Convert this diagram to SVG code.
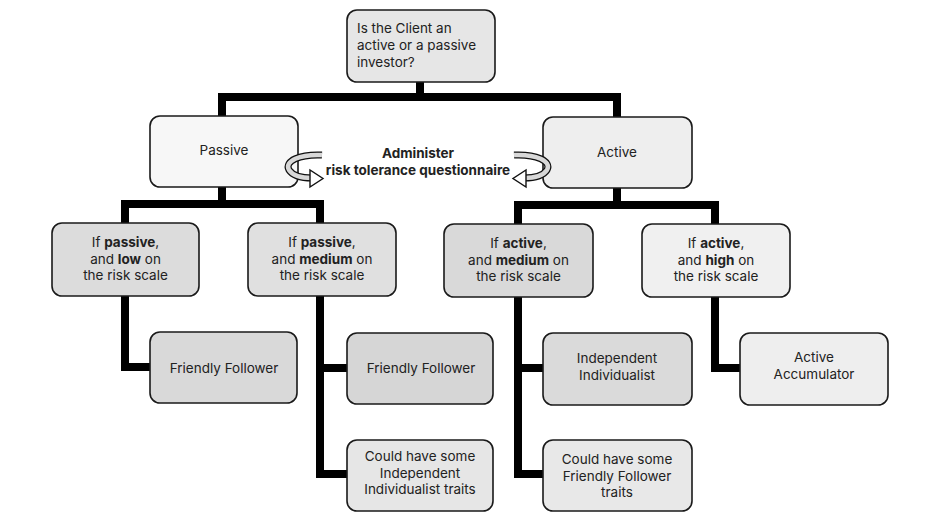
<svg xmlns="http://www.w3.org/2000/svg" width="932" height="532" viewBox="0 0 932 532">
<style>
  .box { stroke: #1a1a1a; stroke-width: 1.6; }
  .t { font-family: Inter, "Liberation Sans", sans-serif; font-size: 13.5px; fill: #222; text-anchor: middle; }
  .tl { text-anchor: start; }
  .b { font-weight: bold; }
  .conn { fill: none; stroke: #000; stroke-width: 8; stroke-linejoin: miter; }
</style>
<rect width="932" height="532" fill="#ffffff"/>
<g id="connectors">
  <path class="conn" d="M420 82 V97"/>
  <path class="conn" d="M222 117 V97 H617 V118"/>
  <path class="conn" d="M222 187 V204"/>
  <path class="conn" d="M125 223 V204 H320 V223"/>
  <path class="conn" d="M617 188 V205"/>
  <path class="conn" d="M518 224 V205 H715 V224"/>
  <path class="conn" d="M125 296 V367 H151"/>
  <path class="conn" d="M320 296 V474 H348"/>
  <path class="conn" d="M320 368 H348"/>
  <path class="conn" d="M518 297 V474 H544"/>
  <path class="conn" d="M518 368 H544"/>
  <path class="conn" d="M715 297 V368 H741"/>
</g>
<g id="q">
  <rect class="box" x="347" y="10" width="148" height="72" rx="10" fill="#e6e6e6"/>
  <text class="t tl" x="357" y="33">Is the Client an</text>
  <text class="t tl" x="357" y="50">active or a passive</text>
  <text class="t tl" x="357" y="67">investor?</text>
</g>
<g id="passive">
  <rect class="box" x="150" y="116" width="148" height="71" rx="10" fill="#f7f7f7"/>
  <text class="t" x="224" y="155">Passive</text>
</g>
<g id="active">
  <rect class="box" x="543" y="117" width="149" height="71" rx="10" fill="#eeeeee"/>
  <text class="t" x="617" y="157">Active</text>
</g>
<g id="admin">
  <path d="M322 155 C300 154 284 161 289 170 C293 176 303 178 312 178" fill="none" stroke="#111" stroke-width="7"/>
  <path d="M322 155 C300 154 284 161 289 170 C293 176 303 178 312 178" fill="none" stroke="#d8d8d8" stroke-width="4.5"/>
  <polygon points="310,174 310,170 323,178.5 310,187 310,183" fill="#fff" stroke="#111" stroke-width="1.4"/>
  <path d="M514 155 C536 154 552 161 547 170 C543 176 533 178 524 178" fill="none" stroke="#111" stroke-width="7"/>
  <path d="M514 155 C536 154 552 161 547 170 C543 176 533 178 524 178" fill="none" stroke="#d8d8d8" stroke-width="4.5"/>
  <polygon points="526,174 526,170 513,178.5 526,187 526,183" fill="#fff" stroke="#111" stroke-width="1.4"/>
  <text class="t b" x="418" y="158">Administer</text>
  <text class="t b" x="418" y="175">risk tolerance questionnaire</text>
</g>
<g id="passive-low">
  <rect class="box" x="52" y="223" width="147" height="73" rx="10" fill="#dcdcdc"/>
  <text class="t" x="125.5" y="247">If <tspan class="b">passive</tspan>,</text>
  <text class="t" x="125.5" y="264">and <tspan class="b">low</tspan> on</text>
  <text class="t" x="125.5" y="280">the risk scale</text>
</g>
<g id="passive-medium">
  <rect class="box" x="248" y="223" width="148" height="73" rx="10" fill="#e0e0e0"/>
  <text class="t" x="322" y="247">If <tspan class="b">passive</tspan>,</text>
  <text class="t" x="322" y="264">and <tspan class="b">medium</tspan> on</text>
  <text class="t" x="322" y="280">the risk scale</text>
</g>
<g id="active-medium">
  <rect class="box" x="444" y="224" width="149" height="73" rx="10" fill="#d9d9d9"/>
  <text class="t" x="518.5" y="248">If <tspan class="b">active</tspan>,</text>
  <text class="t" x="518.5" y="265">and <tspan class="b">medium</tspan> on</text>
  <text class="t" x="518.5" y="281">the risk scale</text>
</g>
<g id="active-high">
  <rect class="box" x="642" y="224" width="148" height="73" rx="10" fill="#f0f0f0"/>
  <text class="t" x="716" y="248">If <tspan class="b">active</tspan>,</text>
  <text class="t" x="716" y="265">and <tspan class="b">high</tspan> on</text>
  <text class="t" x="716" y="281">the risk scale</text>
</g>
<g id="ff1">
  <rect class="box" x="150" y="332" width="147" height="71" rx="10" fill="#d9d9d9"/>
  <text class="t" x="224" y="373">Friendly Follower</text>
</g>
<g id="ff2">
  <rect class="box" x="347" y="333" width="146" height="71" rx="10" fill="#d6d6d6"/>
  <text class="t" x="421" y="373">Friendly Follower</text>
</g>
<g id="could-ii">
  <rect class="box" x="347" y="440" width="146" height="71" rx="10" fill="#e6e6e6"/>
  <text class="t" x="420" y="461">Could have some</text>
  <text class="t" x="420" y="478">Independent</text>
  <text class="t" x="420" y="494">Individualist traits</text>
</g>
<g id="ii">
  <rect class="box" x="543" y="333" width="149" height="72" rx="10" fill="#dadada"/>
  <text class="t" x="617" y="363">Independent</text>
  <text class="t" x="617" y="380">Individualist</text>
</g>
<g id="could-ff">
  <rect class="box" x="543" y="440" width="149" height="71" rx="10" fill="#e8e8e8"/>
  <text class="t" x="617" y="464">Could have some</text>
  <text class="t" x="617" y="481">Friendly Follower</text>
  <text class="t" x="617" y="497">traits</text>
</g>
<g id="aa">
  <rect class="box" x="740" y="333" width="148" height="72" rx="10" fill="#eeeeee"/>
  <text class="t" x="814" y="362">Active</text>
  <text class="t" x="814" y="379">Accumulator</text>
</g>
</svg>
